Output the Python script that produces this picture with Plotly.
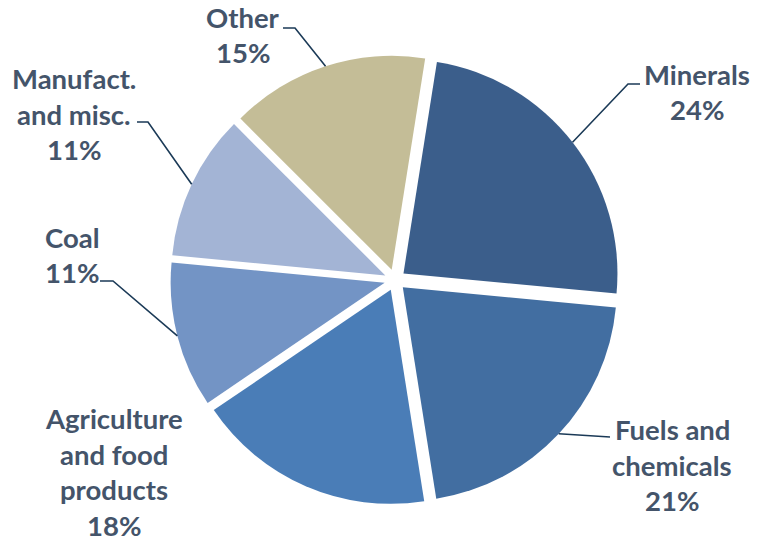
import math
import plotly.graph_objects as go

# Share of freight by commodity group
categories = ["Minerals", "Fuels and chemicals", "Agriculture and food products",
              "Coal", "Manufact. and misc.", "Other"]
shares = [24, 21, 18, 11, 11, 15]
label_lines = [["Minerals", "24%"],
               ["Fuels and", "chemicals", "21%"],
               ["Agriculture", "and food", "products", "18%"],
               ["Coal", "11%"],
               ["Manufact.", "and misc.", "11%"],
               ["Other", "15%"]]

colors = ["#3B5E8B", "#426EA1", "#4A7DB7", "#7394C5", "#A3B4D5", "#C4BD97"]
TEXT_COLOR = "#44546A"
LINE_COLOR = "#1B3A57"

W, H = 760, 541
CX, CY = 395, 280          # pie centre in pixels
R = 214                    # pie radius in pixels
PULL = 0.05
ROTATION = 9               # first slice starts 9 degrees clockwise of 12 o'clock
LINE_GAP = 35.5            # pixel distance between label lines
FONT_SIZE = 27.5

# label placement (pixel centres) and leader elbows (None = no leader)
label_pos = [(697, 92), (672, 465), (114, 472), (72, 255), (74, 114), (243, 35)]
leader_elbow = [[(628, 84), (640, 84)],
                [(610, 437)],
                None,
                [(113, 281), (100, 281)],
                [(148, 122), (137, 122)],
                [(295, 28), (283, 28)]]


def px(x, y):
    return x / W, 1 - y / H


side = 2 * R * (1 + PULL)
dx0, dy0 = px(CX - side / 2, CY + side / 2)
dx1, dy1 = px(CX + side / 2, CY - side / 2)

fig = go.Figure(go.Pie(
    labels=categories,
    values=shares,
    sort=False,
    direction="clockwise",
    rotation=ROTATION,
    pull=[PULL] * len(shares),
    marker=dict(colors=colors, line=dict(width=0)),
    textinfo="none",
    hoverinfo="label+percent",
    showlegend=False,
    domain=dict(x=[dx0, dx1], y=[dy0, dy1]),
))

annotations = []
shapes = []
total = sum(shares)
start = ROTATION
for i, v in enumerate(shares):
    span = 360 * v / total
    mid = math.radians(start + span / 2)
    start += span
    lx, ly = label_pos[i]
    lines = label_lines[i]
    top = ly - LINE_GAP * (len(lines) - 1) / 2
    for k, line in enumerate(lines):
        ax, ay = px(lx, top + k * LINE_GAP)
        annotations.append(dict(
            x=ax, y=ay, xref="paper", yref="paper", text=line,
            showarrow=False, align="center", xanchor="center", yanchor="middle",
            font=dict(family="Lato", size=FONT_SIZE, color=TEXT_COLOR, weight="bold"),
        ))
    if leader_elbow[i] is None:
        continue
    # anchor on the outer arc of the pulled slice, at its mid angle
    ox = CX + R * PULL * math.sin(mid) + R * math.sin(mid)
    oy = CY - R * PULL * math.cos(mid) - R * math.cos(mid)
    pts = [(ox, oy)] + leader_elbow[i]
    path = "M " + " L ".join(f"{px(x, y)[0]:.5f},{px(x, y)[1]:.5f}" for x, y in pts)
    shapes.append(dict(type="path", xref="paper", yref="paper", path=path,
                       line=dict(color=LINE_COLOR, width=1.6)))

fig.update_layout(
    width=W, height=H,
    margin=dict(l=0, r=0, t=0, b=0),
    paper_bgcolor="white",
    plot_bgcolor="white",
    annotations=annotations,
    shapes=shapes,
)

fig.write_html("out.html")
